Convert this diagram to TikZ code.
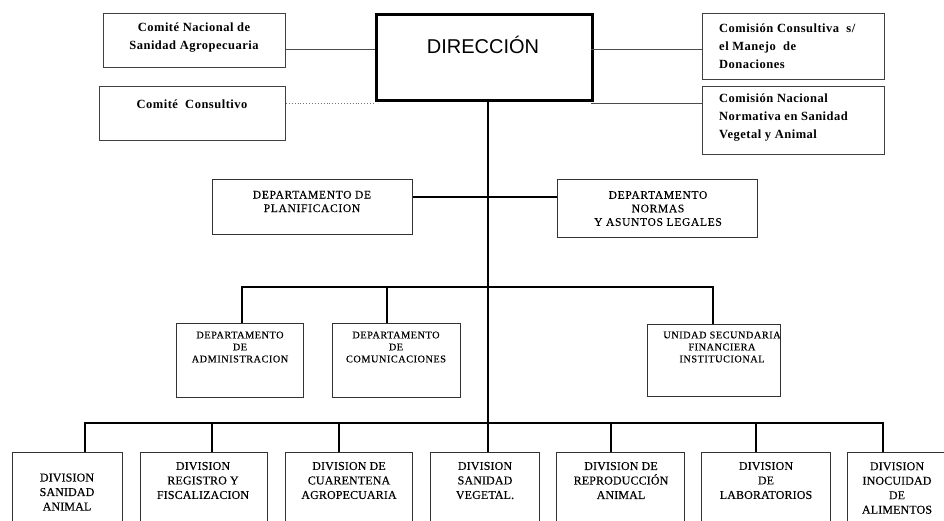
\documentclass[tikz,border=0pt]{standalone}
\usepackage{fontspec}
\setmainfont{Liberation Serif}
\newfontfamily\dirfont{Liberation Sans}
\newfontfamily\boxfont[LetterSpace=6,FakeBold=0.3]{Liberation Serif}
\newfontfamily\smallfont[LetterSpace=5,FakeBold=0.3]{Liberation Serif}
\newfontfamily\divfont[LetterSpace=1,FakeBold=0.3]{Liberation Serif}
\newfontfamily\topfont[LetterSpace=4]{Liberation Serif}
\usetikzlibrary{shadows}
\begin{document}
\begin{tikzpicture}[x=1pt,y=-1pt,
  box/.style={draw=black!80, line width=1.1pt, fill=white, inner sep=0pt, anchor=north west},
  topbox/.style={draw=black!75, line width=0.9pt, fill=white, inner sep=0pt, anchor=north west},
  dirbox/.style={draw=black, line width=2.6pt, fill=white, inner sep=0pt, anchor=north west,
     drop shadow={shadow xshift=2pt, shadow yshift=-2pt, fill=black!45, opacity=1}},
  conn/.style={draw=black, line width=2pt},
  thin/.style={draw=black!70, line width=0.8pt},
  dots/.style={draw=black!55, line width=0.9pt, dotted},
  toptxt/.style={font=\topfont\fontsize{12.5}{18}\selectfont\bfseries, align=center, inner sep=0pt},
  toptxtl/.style={font=\topfont\fontsize{12.5}{18}\selectfont\bfseries, align=left, inner sep=0pt, anchor=west},
  deptxt/.style={font=\boxfont\fontsize{11.5}{13.5}\selectfont, align=center, inner sep=0pt},
  smalltxt/.style={font=\smallfont\fontsize{10.3}{12}\selectfont, align=center, inner sep=0pt},
  divtxt/.style={font=\divfont\fontsize{12}{14.5}\selectfont, align=center, inner sep=0pt}
]
\useasboundingbox (0,0) rectangle (944,520);
\clip (0,0) rectangle (944,520);

% top level
\node[dirbox, minimum width=216, minimum height=86] (dir) at (375,13) {};
\node[font=\dirfont\fontsize{20}{22}\selectfont, inner sep=0pt] (dirt) at (483,45) {DIRECCIÓN};

\node[topbox, minimum width=182, minimum height=54] (cnsa) at (103,13) {};
\node[toptxt] (cnsat) at (194,38) {Comité Nacional de\\Sanidad Agropecuaria};
\node[topbox, minimum width=186, minimum height=54] (cc) at (99,86) {};
\node[toptxt] (cct) at (192,104) {Comité\ \ Consultivo};
\node[topbox, minimum width=182, minimum height=66] (ccmd) at (702,13) {};
\node[toptxtl] (ccmdt) at (719,46) {Comisión Consultiva\ \ s/\\el Manejo\ \ de\\Donaciones};
\node[topbox, minimum width=182, minimum height=68] (cnn) at (702,86) {};
\node[toptxtl] (cnnt) at (719,118) {Comisión Nacional\\Normativa en Sanidad\\Vegetal y Animal};

\coordinate (dl1) at (375,49);
\coordinate (dl2) at (375,103);
\coordinate (dr1) at (591,49);
\coordinate (dr2) at (591,103);
\draw[thin] (cnsa.east |- dl1) -- (dl1);
\draw[dots] (cc.east |- dl2) -- (dl2);
\draw[thin] (dr1) -- (ccmd.west |- dr1);
\draw[thin] (dr2) -- (cnn.west |- dr2);

% row 1 departments
\node[box, minimum width=200, minimum height=55] (plan) at (212,179) {};
\node[deptxt] (plant) at (312,201.5) {DEPARTAMENTO DE\\PLANIFICACION};
\node[box, minimum width=200, minimum height=58] (norm) at (557,179) {};
\node[deptxt] (normt) at (658,208.5) {DEPARTAMENTO\\NORMAS\\Y ASUNTOS LEGALES};

% row 2 departments
\node[box, minimum width=127, minimum height=74] (adm) at (176,323) {};
\node[smalltxt] (admt) at (240,347) {DEPARTAMENTO\\DE\\ADMINISTRACION};
\node[box, minimum width=128, minimum height=74] (com) at (332,323) {};
\node[smalltxt] (comt) at (396,347) {DEPARTAMENTO\\DE\\COMUNICACIONES};
\node[box, minimum width=133, minimum height=72] (uaf) at (647,324) {};
\node[smalltxt] (uaft) at (722,347) {UNIDAD SECUNDARIA\\FINANCIERA\\INSTITUCIONAL};

% divisions
\node[box, minimum width=110, minimum height=80] (d1) at (12,452) {};
\node[divtxt] (d1t) at (67,492) {DIVISION\\SANIDAD\\ANIMAL};
\node[box, minimum width=127, minimum height=80] (d2) at (140,452) {};
\node[divtxt] (d2t) at (203,480.5) {DIVISION\\REGISTRO Y\\FISCALIZACION};
\node[box, minimum width=127, minimum height=80] (d3) at (285,452) {};
\node[divtxt] (d3t) at (349,480.5) {DIVISION DE\\CUARENTENA\\AGROPECUARIA};
\node[box, minimum width=109, minimum height=80] (d4) at (430,452) {};
\node[divtxt] (d4t) at (485,480.5) {DIVISION\\SANIDAD\\VEGETAL.};
\node[box, minimum width=128, minimum height=80] (d5) at (556,452) {};
\node[divtxt] (d5t) at (621,480.5) {DIVISION DE\\REPRODUCCIÓN\\ANIMAL};
\node[box, minimum width=129, minimum height=80] (d6) at (701,452) {};
\node[divtxt] (d6t) at (766,480.5) {DIVISION\\DE\\LABORATORIOS};
\node[box, minimum width=110, minimum height=80] (d7) at (847,452) {};
\node[divtxt] (d7t) at (897,488) {DIVISION\\INOCUIDAD\\DE\\ALIMENTOS};

% trunk and buses
\coordinate (tr) at (488,99);
\coordinate (b1) at (488,197);
\coordinate (b2) at (488,287);
\coordinate (b3) at (488,423);
\draw[conn] (tr) -- (d4.north -| tr);
\draw[conn] (plan.east |- b1) -- (norm.west |- b1);
\coordinate (a1) at (242,287);
\coordinate (a2) at (387,287);
\coordinate (a3) at (713,287);
\draw[conn] (adm.north -| a1) -- (a1) -- (a3) -- (uaf.north -| a3);
\draw[conn] (a2) -- (com.north -| a2);
\coordinate (c1) at (85,423);
\coordinate (c2) at (212,423);
\coordinate (c3) at (339,423);
\coordinate (c5) at (611,423);
\coordinate (c6) at (756,423);
\coordinate (c7) at (883,423);
\draw[conn] (d1.north -| c1) -- (c1) -- (c7) -- (d7.north -| c7);
\draw[conn] (c2) -- (d2.north -| c2);
\draw[conn] (c3) -- (d3.north -| c3);
\draw[conn] (c5) -- (d5.north -| c5);
\draw[conn] (c6) -- (d6.north -| c6);
\end{tikzpicture}
\end{document}
